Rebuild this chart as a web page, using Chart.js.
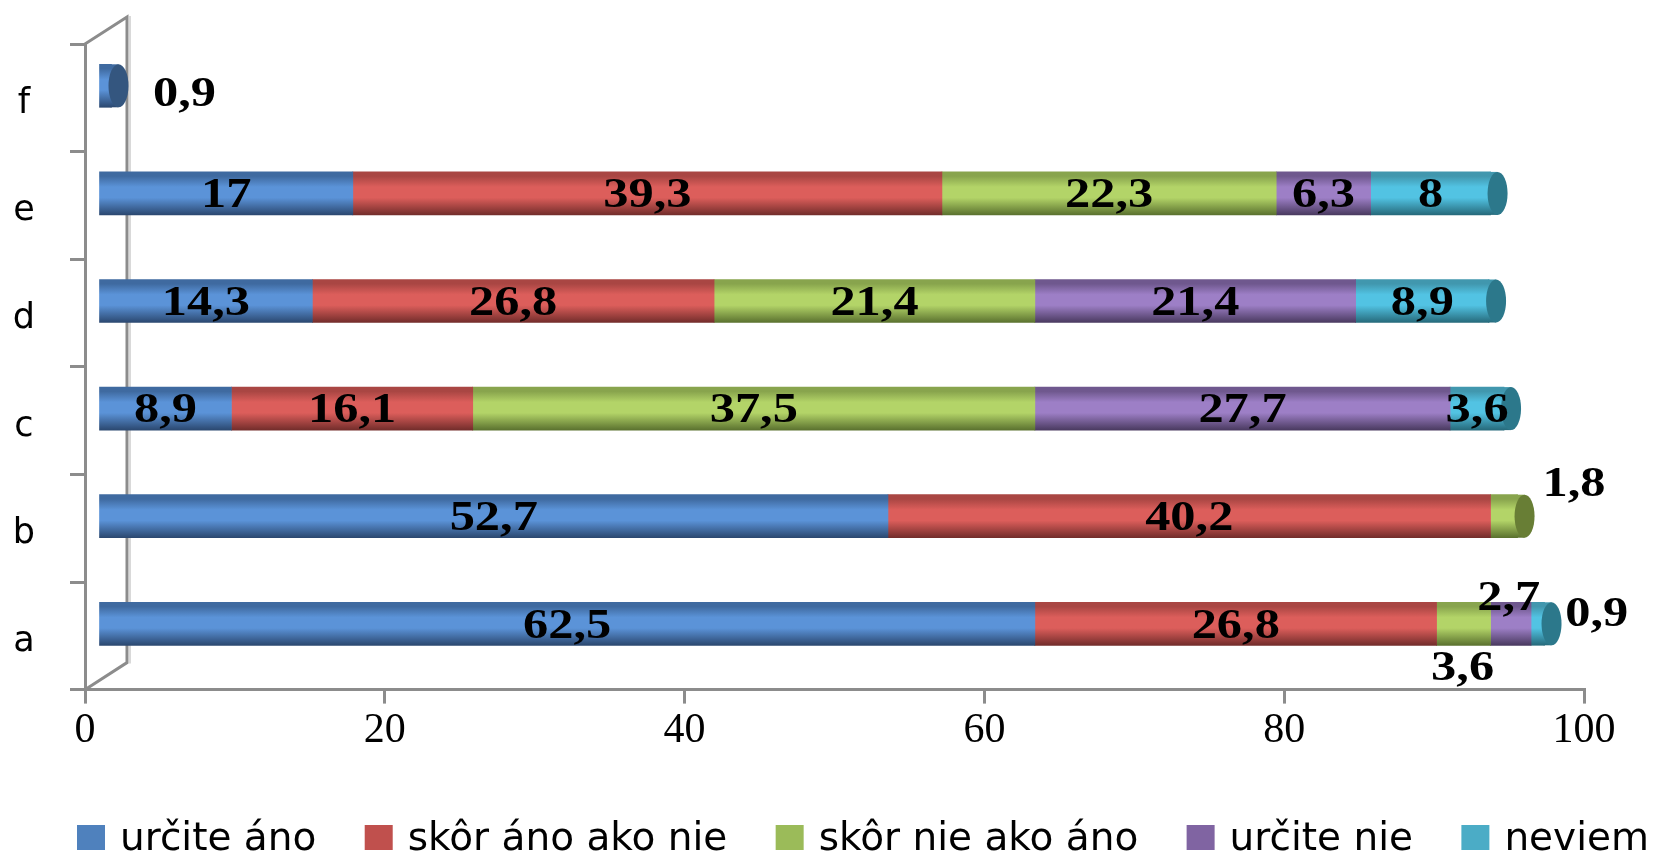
<!DOCTYPE html>
<html>
<head>
<meta charset="utf-8">
<script src="https://cdn.jsdelivr.net/npm/chart.js@4.4.0/dist/chart.umd.min.js"></script>
<style>
    html, body { margin: 0; padding: 0; background: #fff; }
    canvas { display: block; }
</style>
</head>
<body>
<canvas id="chart" width="1655" height="855"></canvas>
<script>
// Data (a = bottom row, f = top row)
const categories = ['a', 'b', 'c', 'd', 'e', 'f'];
const seriesNames = ['určite áno', 'skôr áno ako nie', 'skôr nie ako áno', 'určite nie', 'neviem'];
const urciteAno = [62.5, 52.7, 8.9, 14.3, 17, 0.9];
const skorAnoAkoNie = [26.8, 40.2, 16.1, 26.8, 39.3, null];
const skorNieAkoAno = [3.6, 1.8, 37.5, 21.4, 22.3, null];
const urciteNie = [2.7, null, 27.7, 21.4, 6.3, null];
const neviem = [0.9, null, 3.6, 8.9, 8, null];
const xTicks = [0, 20, 40, 60, 80, 100];

// Colours of the cylinders (flat legend colour + shading)
const palette = [
    { legend: '#4F81BD', top: '#3f6aa0', light: '#5b93d8', dark: '#2b4870', cap: '#34567f' },
    { legend: '#C0504D', top: '#a94643', light: '#dc5e5b', dark: '#732d2b', cap: '#883533' },
    { legend: '#9BBB59', top: '#88a44d', light: '#b3d468', dark: '#5b722f', cap: '#687e35' },
    { legend: '#8064A2', top: '#6f588e', light: '#9d7fc6', dark: '#4a3a60', cap: '#58446e' },
    { legend: '#4BACC6', top: '#4197ae', light: '#52c3e3', dark: '#266a7b', cap: '#2c788b' }
];

const BAR_H = 43;
const SHIFT_X = 13, SHIFT_Y = -12;     // bars sit a bit inside the 3D box
const WALL_X = 42, WALL_Y = -27;       // depth of the back wall

// labels that sit outside their segment: 'row-dataset' -> [dx, dy]
const labelNudge = {
    '5-0': [79, 6],
    '1-2': [70, -34],
    '0-3': [-2, -28],
    '0-2': [-1, 42],
    '0-4': [59, -12]
};

function cylinderFill(ctx) {
    const chart = ctx.chart;
    const p = palette[ctx.datasetIndex];
    const yScale = chart.scales.y;
    if (!yScale) return p.legend;
    const yc = yScale.getPixelForValue(ctx.dataIndex);
    if (!isFinite(yc)) return p.legend;
    const g = chart.ctx.createLinearGradient(0, yc - BAR_H / 2, 0, yc + BAR_H / 2);
    g.addColorStop(0, p.top);
    g.addColorStop(0.1, p.top);
    g.addColorStop(0.35, p.light);
    g.addColorStop(0.6, p.light);
    g.addColorStop(1, p.dark);
    return g;
}

const seriesValues = [urciteAno, skorAnoAkoNie, skorNieAkoAno, urciteNie, neviem];
const datasets = seriesValues.map((vals, k) => ({
    label: seriesNames[k],
    data: vals,
    backgroundColor: cylinderFill,
    borderWidth: 0,
    barThickness: BAR_H,
    clip: false
}));

// back wall of the 3D box, drawn behind the bars
const backWall = {
    id: 'backWall',
    beforeDatasetsDraw(chart) {
        const { ctx, chartArea: a } = chart;
        ctx.save();
        ctx.lineCap = 'square';
        ctx.strokeStyle = '#d9d9d9';
        ctx.lineWidth = 2;
        ctx.beginPath();
        ctx.moveTo(a.left + WALL_X + 3, a.top + WALL_Y);
        ctx.lineTo(a.left + WALL_X + 3, a.bottom + WALL_Y);
        ctx.stroke();
        ctx.strokeStyle = '#8c8c8c';
        ctx.lineWidth = 3;
        ctx.beginPath();
        ctx.moveTo(a.left, a.top);
        ctx.lineTo(a.left + WALL_X, a.top + WALL_Y);
        ctx.lineTo(a.left + WALL_X, a.bottom + WALL_Y);
        ctx.lineTo(a.left, a.bottom);
        ctx.stroke();
        ctx.restore();
        // shift the bars into the box
        ctx.save();
        ctx.translate(SHIFT_X, SHIFT_Y);
    },
    afterDatasetsDraw(chart) {
        const ctx = chart.ctx;
        const n = categories.length;
        // end caps of the cylinders
        for (let i = 0; i < n; i++) {
            let last = -1;
            chart.data.datasets.forEach((ds, d) => { if (ds.data[i] != null) last = d; });
            if (last < 0) continue;
            const el = chart.getDatasetMeta(last).data[i];
            const h = el.height / 2;
            ctx.fillStyle = el.options.backgroundColor;
            ctx.fillRect(el.x - 1, el.y - h, 8, h * 2);
            ctx.fillStyle = palette[last].cap;
            ctx.beginPath();
            ctx.ellipse(el.x + 7, el.y, 10, h, 0, 0, Math.PI * 2);
            ctx.fill();
        }
        // value labels
        ctx.fillStyle = '#000';
        ctx.font = 'bold 42px "Liberation Serif", "Times New Roman", serif';
        ctx.textAlign = 'center';
        ctx.textBaseline = 'middle';
        chart.data.datasets.forEach((ds, d) => {
            const meta = chart.getDatasetMeta(d);
            ds.data.forEach((v, i) => {
                if (v == null) return;
                const el = meta.data[i];
                const nudge = labelNudge[i + '-' + d] || [0, 0];
                const x = (el.x + el.base) / 2 + nudge[0];
                const y = el.y + nudge[1] + 3;
                ctx.save();
                ctx.translate(x, y);
                ctx.scale(1.2, 1);
                ctx.fillText(String(v).replace('.', ','), 0, 0);
                ctx.restore();
            });
        });
        ctx.restore();
    }
};

// legend along the bottom
const bottomLegend = {
    id: 'bottomLegend',
    afterDraw(chart) {
        const ctx = chart.ctx;
        ctx.save();
        ctx.font = '39px "DejaVu Sans", sans-serif';
        ctx.textBaseline = 'alphabetic';
        ctx.textAlign = 'left';
        const boxW = 28, boxH = 25, gapBox = 15;
        const widths = chart.data.datasets.map(ds => ctx.measureText(ds.label).width);
        const used = widths.reduce((s, w) => s + w + boxW + gapBox, 0);
        const gap = (1649 - 77 - used) / (widths.length - 1);
        let x = 77;
        const base = 850;
        chart.data.datasets.forEach((ds, d) => {
            ctx.fillStyle = palette[d].legend;
            ctx.fillRect(x, base - boxH, boxW, boxH);
            ctx.fillStyle = '#000';
            ctx.fillText(ds.label, x + boxW + gapBox, base);
            x += boxW + gapBox + widths[d] + gap;
        });
        ctx.restore();
    }
};

new Chart(document.getElementById('chart').getContext('2d'), {
    type: 'bar',
    data: { labels: categories, datasets: datasets },
    options: {
        indexAxis: 'y',
        responsive: false,
        animation: false,
        events: [],
        layout: { padding: { top: 44, right: 71, left: 0, bottom: 97 } },
        plugins: { legend: { display: false }, tooltip: { enabled: false } },
        scales: {
            x: {
                stacked: true,
                min: 0,
                max: 100,
                afterBuildTicks: s => { s.ticks = xTicks.map(v => ({ value: v })); },
                ticks: {
                    color: '#000',
                    padding: 2,
                    maxRotation: 0,
                    font: { family: '"Liberation Serif", "Times New Roman", serif', size: 42 }
                },
                grid: { drawOnChartArea: false, drawTicks: true, tickLength: 14, color: '#8c8c8c', lineWidth: 3 },
                border: { color: '#8c8c8c', width: 3 }
            },
            y: {
                stacked: true,
                reverse: true,
                afterFit: s => { s.width = 85; s.paddingTop = 0; s.paddingBottom = 0; },
                ticks: {
                    color: '#000',
                    padding: 35,
                    labelOffset: 6,
                    crossAlign: 'center',
                    font: { family: '"DejaVu Sans", sans-serif', size: 35 }
                },
                grid: { drawOnChartArea: false, drawTicks: true, tickLength: 15, color: '#8c8c8c', lineWidth: 3, offset: true },
                border: { color: '#8c8c8c', width: 3 }
            }
        }
    },
    plugins: [backWall, bottomLegend]
});
</script>
</body>
</html>
